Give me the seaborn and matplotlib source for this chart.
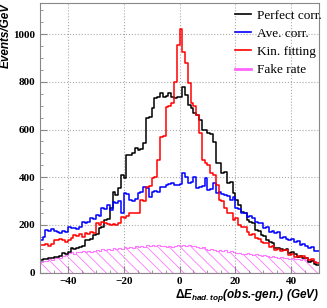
import numpy as np
import matplotlib
matplotlib.use("Agg")
import matplotlib.pyplot as plt
import pandas as pd
import seaborn as sns
from matplotlib.lines import Line2D

# bins of 1 GeV from -50 to 50
centers = np.arange(-50, 50, 1) + 0.5

perfect = [53, 55, 57, 60, 62, 64, 66, 70, 82, 80,
           85, 103, 100, 105, 108, 110, 137, 135, 140, 158,
           160, 187, 190, 221, 225, 271, 338, 326, 355, 410,
           397, 493, 495, 502, 523, 514, 518, 544, 648, 653,
           690, 732, 735, 753, 737, 740, 753, 737, 732, 737,
           737, 779, 745, 703, 690, 669, 660, 640, 598, 600,
           586, 580, 548, 460, 460, 418, 420, 376, 380, 334,
           305, 283, 254, 250, 221, 212, 210, 179, 175, 158,
           155, 137, 129, 125, 103, 105, 100, 95, 97, 82,
           85, 78, 66, 68, 61, 63, 45, 48, 37, 32]

ave = [137, 150, 179, 175, 182, 176, 171, 168, 174, 170,
       191, 188, 187, 183, 190, 212, 208, 214, 229, 225,
       242, 238, 271, 268, 284, 262, 296, 292, 300, 250,
       334, 330, 305, 300, 310, 334, 338, 360, 355, 318,
       339, 342, 336, 360, 358, 367, 370, 376, 368, 366,
       372, 418, 402, 376, 380, 402, 355, 360, 362, 397,
       347, 350, 376, 334, 340, 330, 326, 322, 305, 318,
       271, 265, 250, 252, 234, 238, 230, 212, 208, 210,
       187, 190, 171, 175, 166, 170, 145, 150, 140, 137,
       142, 129, 132, 116, 120, 112, 103, 108, 90, 92]

kinfit = [116, 116, 118, 112, 120, 137, 135, 140, 137, 130,
          137, 145, 158, 155, 160, 150, 166, 162, 170, 166,
          208, 200, 212, 208, 203, 198, 205, 200, 206, 234,
          230, 236, 250, 248, 252, 250, 305, 300, 360, 362,
          397, 400, 472, 569, 575, 695, 700, 712, 800, 954,
          1020, 925, 878, 795, 711, 700, 661, 586, 472, 460,
          451, 418, 410, 368, 305, 300, 271, 250, 248, 221,
          229, 199, 191, 193, 170, 158, 160, 145, 140, 129,
          124, 124, 108, 110, 95, 98, 92, 95, 96, 74,
          78, 66, 68, 66, 70, 62, 53, 55, 45, 40]

fake = [45, 50, 48, 55, 52, 60, 65, 62, 70, 75,
        82, 85, 80, 88, 85, 90, 88, 92, 86, 90,
        95, 92, 98, 95, 100, 96, 102, 98, 104, 100,
        106, 103, 108, 104, 110, 106, 112, 108, 114, 110,
        115, 112, 116, 110, 113, 108, 112, 106, 110, 114,
        110, 116, 112, 115, 110, 113, 108, 104, 106, 100,
        96, 100, 95, 92, 96, 90, 93, 88, 90, 86,
        82, 84, 80, 78, 82, 76, 74, 78, 72, 70,
        74, 68, 66, 70, 64, 62, 66, 60, 63, 58,
        60, 56, 58, 54, 56, 52, 50, 53, 48, 45]

labels = ["Perfect corr.", "Ave. corr.", "Kin. fitting", "Fake rate"]
colors = ["black", "blue", "red", "#ff66ff"]

df = pd.DataFrame({"dE": centers, "perfect": perfect, "ave": ave,
                   "kinfit": kinfit, "fake": fake})

plt.rcParams["hatch.color"] = "#ff66ff"
plt.rcParams["hatch.linewidth"] = 0.6
plt.rcParams["mathtext.fontset"] = "custom"
plt.rcParams["mathtext.rm"] = "Liberation Sans:bold"
plt.rcParams["mathtext.it"] = "Liberation Sans:italic:bold"
plt.rcParams["mathtext.bf"] = "Liberation Sans:bold"

fig = plt.figure(figsize=(3.27, 3.08), dpi=100)
ax = fig.add_axes([0.122, 0.115, 0.854, 0.876])

# fake rate, hatched
sns.histplot(data=df, x="dE", weights="fake", bins=100, binrange=(-50, 50),
             element="step", fill=True, color="#ff77ff", facecolor="none",
             edgecolor="#ff77ff", hatch="\\\\\\", linewidth=0.8, ax=ax)

for col, c in zip(["perfect", "ave", "kinfit"], colors[:3]):
    sns.histplot(data=df, x="dE", weights=col, bins=100, binrange=(-50, 50),
                 element="step", fill=False, color=c, linewidth=1.1, ax=ax)

ax.set_xlim(-50, 50)
ax.set_ylim(0, 1132)
ax.set_xticks([-40, -20, 0, 20, 40])
ax.set_xticks(np.arange(-50, 51, 5), minor=True)
ax.set_yticks([0, 200, 400, 600, 800, 1000])
ax.set_yticks(np.arange(0, 1131, 50), minor=True)
ax.grid(True, which="major", linestyle=":", color="#aaaaaa", linewidth=0.8)
ax.tick_params(which="both", direction="in", colors="#888888", labelcolor="black",
               top=False, right=False)
ax.tick_params(which="major", length=5)
ax.tick_params(which="minor", length=2.5)
for lab in ax.get_xticklabels() + ax.get_yticklabels():
    lab.set_family("Liberation Serif")
    lab.set_weight("bold")
    lab.set_size(8)
for s in ax.spines.values():
    s.set_color("#888888")
    s.set_linewidth(0.8)

ax.set_ylabel("Events/GeV", fontsize=8.5, fontweight="bold", fontstyle="italic",
              family="Liberation Sans", loc="top", labelpad=1)
ax.set_xlabel("")
fig.text(0.976, 0.012, r"$\Delta E_{had.top}$(obs.-gen.) (GeV)",
         ha="right", va="bottom", fontsize=8.5, fontweight="bold", fontstyle="italic",
         family="Liberation Sans")

handles = [Line2D([], [], color=c, lw=1.2 if i < 3 else 2) for i, c in enumerate(colors)]
leg = ax.legend(handles, labels, loc="upper left", frameon=False,
                prop={"family": "Liberation Serif", "size": 9.5},
                handlelength=1.2, handletextpad=0.5, labelspacing=0.45,
                borderaxespad=0.0, bbox_to_anchor=(0.68, 0.995))

fig.savefig("out.png", dpi=100)
